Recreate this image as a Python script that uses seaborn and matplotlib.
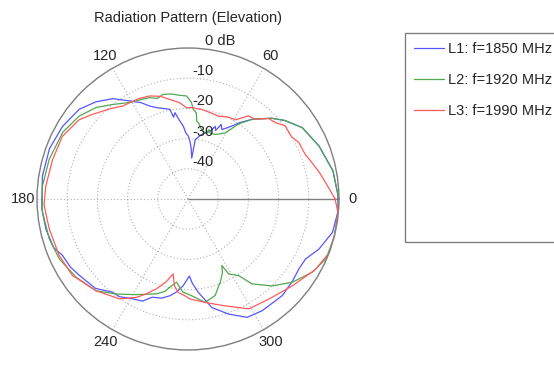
import numpy as np
import pandas as pd
import matplotlib
matplotlib.use("Agg")
import matplotlib.pyplot as plt
import matplotlib.patches as patches
import seaborn as sns

# Radiation pattern samples (angle in degrees, gain in dB)
l1_deg = [0, 2, 11, 22, 32, 39, 44, 51, 56, 59, 62, 64, 66, 68, 69.5, 72, 75.5, 79, 83,
          84.8, 86.5, 88, 89.7, 92, 93.7, 96, 98.6, 100, 101.4, 105, 109, 112.4, 116,
          120.8, 126.8, 133.4, 140.5, 150, 160, 171, 180, 184, 192, 200, 204, 210, 215,
          224, 231, 235, 241, 246, 250, 255, 259.4, 263, 266.9, 271, 273, 276.3, 282.4,
          289.4, 296.5, 303.6, 314.3, 322, 327.9, 333, 339, 347, 355, 360]
l1_db = [-0.3, -0.4, -1.1, -3.2, -5.4, -8.7, -11.5, -16.0, -19.5, -21.8, -23.5, -24.4, -23.0,
         -25.5, -24.3, -26.5, -27.4, -28.5, -30.2, -36.4, -33.0, -31.0, -29.2, -28.0, -25.8,
         -24.0, -21.1, -22.5, -19.7, -19.0, -18.0, -16.7, -14.5, -12.2, -8.5, -5.7, -3.3,
         -2.0, -1.2, -1.2, -1.6, -1.5, -1.9, -2.7, -4.4, -5.0, -6.0, -7.4, -10.3, -10.5,
         -12.2, -13.0, -15.4, -16.0, -17.4, -19.0, -21.3, -24.5, -22.0, -18.9, -13.2, -9.6,
         -6.2, -5.6, -5.3, -6.0, -6.6, -6.3, -3.6, -0.9, -0.2, -0.3]

l2_deg = [0, 2, 11, 22, 32, 39, 44, 51, 56, 60.6, 64, 67, 71.5, 73, 75, 78.8, 82.2, 83.6,
          84.5, 86.6, 88, 90.7, 95, 99, 103.4, 107, 110.7, 116, 121, 128.5, 135, 142.7, 152,
          164, 175, 185, 196, 205, 215, 225, 233, 241.6, 251.6, 256, 258.4, 262.2, 264, 267,
          272, 279.4, 285.7, 291.2, 295, 297, 298.5, 303.5, 307, 314, 321.4, 329.6, 336.6,
          345, 355, 360]
l2_db = [-0.2, -0.4, -1.1, -3.2, -5.4, -8.7, -11.5, -16.0, -20.0, -24.9, -26.0, -26.8, -27.0,
         -26.0, -27.5, -26.6, -24.5, -24.1, -21.3, -20.3, -18.0, -15.9, -15.5, -14.8, -14.4,
         -15.2, -14.1, -13.5, -12.7, -10.0, -7.1, -4.7, -3.0, -2.2, -1.6, -1.6, -2.2, -3.0,
         -4.8, -7.0, -10.6, -14.0, -16.9, -18.5, -20.2, -22.2, -21.0, -19.1, -18.0, -15.3,
         -16.8, -20.5, -23.0, -25.3, -21.8, -19.6, -14.8, -10.0, -5.8, -2.2, -0.2, 0.0, 0.0,
         -0.2]

l3_deg = [0, 6.5, 11, 16, 21, 27, 31, 37, 41, 45, 50, 54, 59, 64, 70, 75, 81, 87.7, 90.8, 95,
          100.3, 105, 110.4, 116, 121, 125, 130, 134, 139, 144, 153.5, 164, 175, 182.4, 192,
          203.6, 213.5, 225, 235.6, 242.3, 246, 250.7, 255, 258.8, 261, 264, 268, 271, 279.4,
          289, 299, 309, 320, 331, 339, 347, 355, 360]
l3_db = [-1.3, -4.0, -5.5, -7.1, -8.5, -8.8, -10.0, -9.7, -11.5, -12.3, -15.5, -16.0, -19.4,
         -19.8, -20.8, -20.5, -20.0, -19.7, -19.8, -18.0, -16.5, -14.8, -13.6, -13.0, -12.7,
         -12.4, -10.8, -9.5, -7.5, -5.4, -3.5, -3.3, -2.7, -2.3, -3.0, -3.4, -4.1, -7.0,
         -9.9, -13.2, -15.5, -18.5, -21.5, -24.7, -21.0, -18.9, -18.0, -16.9, -15.3, -12.6,
         -8.4, -7.4, -5.1, -1.8, 0.0, 0.0, -0.2, -1.3]

series_names = ["L1: f=1850 MHz", "L2: f=1920 MHz", "L3: f=1990 MHz"]
series_colors = ["#5555ff", "#50a850", "#ff5a5a"]

theta_ticks = [0, 60, 120, 180, 240, 300]
r_ticks = [-40, -30, -20, -10, 0]
r_labels = ["-40", "-30", "-20", "-10", "0 dB"]
r_min, r_max = -50, 0

frames = []
for name, deg, db in zip(series_names, [l1_deg, l2_deg, l3_deg], [l1_db, l2_db, l3_db]):
    frames.append(pd.DataFrame({"theta": np.deg2rad(deg), "gain": db, "series": name}))
df = pd.concat(frames, ignore_index=True)

sns.set_theme(style="white")
plt.rcParams["font.family"] = ["Liberation Sans", "DejaVu Sans"]
plt.rcParams["text.color"] = "#262626"

fig = plt.figure(figsize=(5.54, 3.65), dpi=100)
ax = fig.add_axes([37 / 554, 15 / 365, 302 / 554, 302 / 365], projection="polar")

sns.lineplot(data=df, x="theta", y="gain", hue="series", palette=series_colors,
             estimator=None, sort=False, linewidth=0.9, ax=ax, legend=False)

ax.set_rlim(r_min, r_max)
ax.set_rticks(r_ticks)
ax.set_yticklabels([])
ax.set_thetagrids(theta_ticks, labels=[str(t) for t in theta_ticks])
ax.set_xlabel("")
ax.set_ylabel("")
ax.tick_params(axis="x", pad=-3, labelsize=10.5, colors="#262626")
ax.grid(True, linestyle=(0, (1, 2)), color="#b0b0b0", linewidth=0.8)
ax.spines["polar"].set_color("#808080")
ax.spines["polar"].set_linewidth(1.0)

# MATLAB-style solid reference line along 0 degrees
ax.xaxis.get_gridlines()[0].set_linestyle("-")
ax.xaxis.get_gridlines()[0].set_color("#808080")
ax.xaxis.get_gridlines()[0].set_linewidth(1.0)

for v, lab in zip(r_ticks, r_labels):
    if lab == "0 dB":
        ax.annotate(lab, xy=(np.pi / 2, v), xytext=(17, 7), textcoords="offset pixels",
                    ha="left", va="center", fontsize=10.5, annotation_clip=False)
    else:
        ax.annotate(lab, xy=(np.pi / 2, v), xytext=(15, 7), textcoords="offset pixels",
                    ha="center", va="center", fontsize=10.5, annotation_clip=False)

fig.text(188 / 554, 1 - 18 / 365, "Radiation Pattern (Elevation)", ha="center",
         va="center", fontsize=10.5)

# Legend with a tall MATLAB-like box
handles = ax.get_lines()[:3]
fig.legend(handles, series_names, loc="upper left", bbox_to_anchor=(405 / 554, 1 - 33 / 365),
           frameon=False, fontsize=10.5, borderaxespad=0, borderpad=0.65,
           handlelength=2.05, handletextpad=0.27, labelspacing=1.15)
box = patches.Rectangle((405 / 554, 1 - 242 / 365), 170 / 554, 209 / 365,
                        transform=fig.transFigure, fill=False, edgecolor="#808080",
                        linewidth=1.0, clip_on=False)
fig.patches.append(box)

fig.savefig("out.png", dpi=100)
